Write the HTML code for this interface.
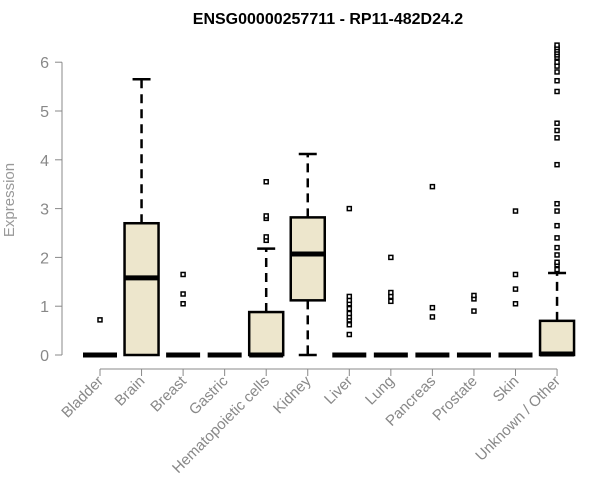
<!DOCTYPE html>
<html><head><meta charset="utf-8"><style>
body{margin:0;background:#fff;font-family:"Liberation Sans",sans-serif}
svg{display:block}
</style></head><body>
<svg id="chart" width="600" height="500" xmlns="http://www.w3.org/2000/svg">
<text x="328" y="24" text-anchor="middle" font-weight="bold" font-size="16" fill="#000">ENSG00000257711 - RP11-482D24.2</text>
<text transform="translate(14,200) rotate(-90)" text-anchor="middle" font-size="15" fill="#999">Expression</text>
<g id="yaxis"></g>
<g id="xaxis"></g>
<g id="boxes"></g>
</svg>
<script>
const categories=["Bladder","Brain","Breast","Gastric","Hematopoietic cells","Kidney","Liver","Lung","Pancreas","Prostate","Skin","Unknown / Other"];
const lowWhisker=[0,0,0,0,0,0,0,0,0,0,0,0];
const q1=[0,0,0,0,0,1.12,0,0,0,0,0,0];
const medians=[0,1.58,0,0,0,2.07,0,0,0,0,0,0.02];
const q3=[0,2.7,0,0,0.88,2.82,0,0,0,0,0,0.7];
const highWhisker=[0,5.65,0,0,2.18,4.12,0,0,0,0,0,1.68];
const outliers=[[0.72],[],[1.05,1.25,1.65],[],[2.35,2.42,2.8,2.85,3.55],[],[0.42,0.62,0.72,0.78,0.85,0.95,1.05,1.12,1.2,3.0],[1.1,1.2,1.28,2.0],[0.78,0.97,3.45],[0.9,1.15,1.22],[1.05,1.35,1.65,2.95],[1.75,1.85,1.9,2.05,2.2,2.4,2.65,2.95,3.1,3.9,4.45,4.6,4.75,5.4,5.62,5.8,5.92,6.0,6.1,6.15,6.2,6.25,6.3,6.35]];
const yTicks=[0,1,2,3,4,5,6];
const NS="http://www.w3.org/2000/svg";
const y=v=>355-v*48.8;
const x=i=>100+i*41.55;
function mk(tag,attrs,parent){const e=document.createElementNS(NS,tag);for(const k in attrs)e.setAttribute(k,attrs[k]);parent.appendChild(e);return e;}
const ya=document.getElementById('yaxis'),xa=document.getElementById('xaxis'),bx=document.getElementById('boxes');
mk('line',{x1:62,x2:62,y1:y(0),y2:y(6),stroke:'#888'},ya);
yTicks.forEach(t=>{
 mk('line',{x1:55,x2:62,y1:y(t),y2:y(t),stroke:'#888'},ya);
 const tx=mk('text',{x:49,y:y(t)+6,'text-anchor':'end','font-size':16,fill:'#888'},ya);
 
 
 tx.textContent=t;
});
mk('line',{x1:x(0),x2:x(categories.length-1),y1:369,y2:369,stroke:'#888'},xa);
categories.forEach((c,i)=>{
 mk('line',{x1:x(i),x2:x(i),y1:369,y2:376,stroke:'#888'},xa);
 const tx=mk('text',{transform:`translate(${x(i)+4},${382}) rotate(-45)`,'text-anchor':'end','font-size':15,fill:'#888'},xa);
 
 
 tx.textContent=c;
 const g=mk('g',{},bx);
 
 
 const cx=x(i),hw=17;
 if(highWhisker[i]>q3[i]){
  mk('line',{x1:cx,x2:cx,y1:y(q3[i]),y2:y(highWhisker[i]),stroke:'#000','stroke-width':2.5,'stroke-dasharray':'9,6'},g);
  mk('line',{x1:cx-9,x2:cx+9,y1:y(highWhisker[i]),y2:y(highWhisker[i]),stroke:'#000','stroke-width':2.5},g);
 }
 if(lowWhisker[i]<q1[i]){
  mk('line',{x1:cx,x2:cx,y1:y(q1[i]),y2:y(lowWhisker[i]),stroke:'#000','stroke-width':2.5,'stroke-dasharray':'9,6'},g);
  mk('line',{x1:cx-9,x2:cx+9,y1:y(lowWhisker[i]),y2:y(lowWhisker[i]),stroke:'#000','stroke-width':2.5},g);
 }
 if(q3[i]>q1[i]) mk('rect',{x:cx-hw,y:y(q3[i]),width:2*hw,height:y(q1[i])-y(q3[i]),fill:'#ede6cc',stroke:'#000','stroke-width':2.5},g);
 mk('line',{x1:cx-hw,x2:cx+hw,y1:y(medians[i]),y2:y(medians[i]),stroke:'#000','stroke-width':5},g);
 outliers[i].forEach(v=>{
  const r=mk('rect',{x:cx-2,y:y(v)-2,width:4,height:4,fill:'#fff',stroke:'#000','stroke-width':1.5},g);
  
  
 });
});
</script>
</body></html>
